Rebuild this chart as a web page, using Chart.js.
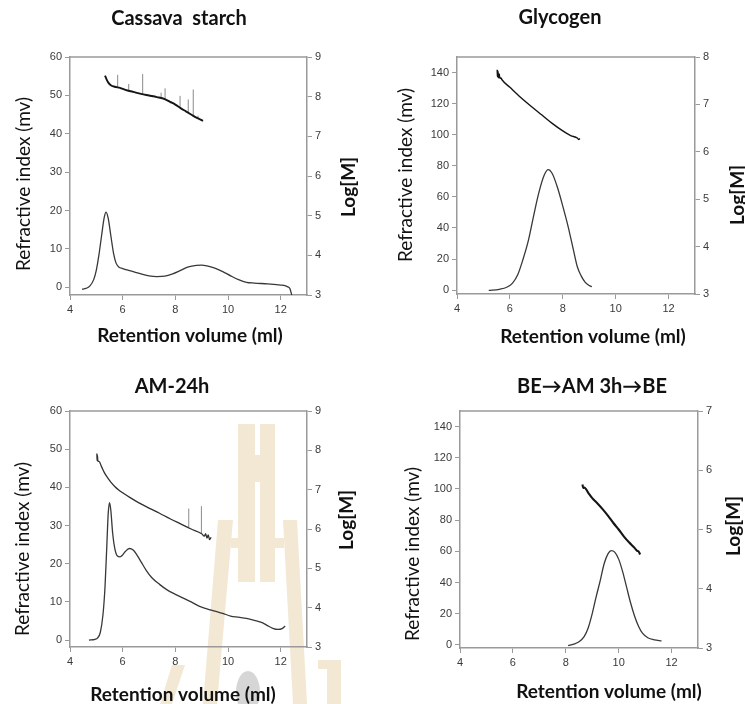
<!DOCTYPE html>
<html>
<head>
<meta charset="utf-8">
<script src="https://cdn.jsdelivr.net/npm/chart.js@4.4.1/dist/chart.umd.min.js"></script>
<style>
  html, body { margin: 0; padding: 0; background: #ffffff; }
  #wrap { position: relative; width: 745px; height: 704px; overflow: hidden; }
  canvas { position: absolute; }
</style>
</head>
<body>
<div id="wrap">
  <canvas id="cassava" width="372" height="352" style="left:0;top:0"></canvas>
  <canvas id="glycogen" width="373" height="352" style="left:372px;top:0"></canvas>
  <canvas id="am24" width="372" height="352" style="left:0;top:352px"></canvas>
  <canvas id="beam" width="373" height="352" style="left:372px;top:352px"></canvas>
</div>
<script>
// ---- axis ticks ----
const retentionTicks = [4, 6, 8, 10, 12];
const riTicksSmall = [0, 10, 20, 30, 40, 50, 60];
const riTicksLarge = [0, 20, 40, 60, 80, 100, 120, 140];
const logTicks9 = [3, 4, 5, 6, 7, 8, 9];
const logTicks8 = [3, 4, 5, 6, 7, 8];
const logTicks7 = [3, 4, 5, 6, 7];

// ---- Cassava starch: refractive index (mv) vs retention volume (ml) ----
const cassavaRI = [
  [4.46, -0.5], [4.6, -0.3], [4.75, 0.3], [4.9, 2.0], [5.0, 4.5], [5.1, 8.5],
  [5.2, 13.5], [5.3, 18.2], [5.37, 19.6], [5.45, 18.0], [5.55, 13.5], [5.65, 9.0],
  [5.75, 6.3], [5.85, 5.3], [6.0, 4.9], [6.3, 4.3], [6.6, 3.7], [7.0, 3.0],
  [7.3, 2.8], [7.6, 2.9], [7.9, 3.5], [8.2, 4.4], [8.5, 5.3], [8.8, 5.7],
  [9.0, 5.8], [9.2, 5.6], [9.5, 5.0], [9.8, 4.1], [10.1, 3.0], [10.4, 2.0],
  [10.7, 1.3], [11.0, 1.1], [11.5, 0.9], [12.0, 0.6], [12.25, 0.2], [12.35, -0.3],
  [12.42, -2.0]
];
// Cassava starch: Log[M]
const cassavaLogM = [
  [5.33, 8.53], [5.38, 8.45], [5.45, 8.36], [5.55, 8.29], [5.7, 8.25], [5.9, 8.22],
  [6.1, 8.17], [6.4, 8.12], [6.7, 8.07], [7.0, 8.03], [7.3, 7.99], [7.6, 7.94],
  [7.8, 7.87], [8.0, 7.80], [8.2, 7.71], [8.4, 7.63], [8.6, 7.55], [8.8, 7.47],
  [9.0, 7.41], [9.05, 7.39]
];
// detector spikes on the Log[M] trace: [volume, base, top]
const cassavaSpikes = [
  [5.81, 8.24, 8.55], [6.23, 8.16, 8.32], [6.76, 8.07, 8.57], [7.46, 7.97, 8.10],
  [7.61, 7.94, 8.21], [8.18, 7.72, 8.02], [8.49, 7.60, 7.93], [8.68, 7.52, 8.18],
  [8.86, 7.45, 7.52]
];

// ---- Glycogen ----
const glycogenRI = [
  [5.2, -0.2], [5.6, 0.5], [5.9, 2.0], [6.1, 4.5], [6.3, 10], [6.5, 20],
  [6.7, 32], [6.9, 48], [7.1, 63], [7.3, 74], [7.45, 77.5], [7.6, 75],
  [7.8, 66], [8.0, 54], [8.2, 41], [8.4, 26], [8.55, 15], [8.7, 9],
  [8.85, 5], [9.0, 3], [9.1, 2.2]
];
const glycogenLogM = [
  [5.52, 7.73], [5.53, 7.58], [5.55, 7.70], [5.57, 7.56], [5.6, 7.64], [5.62, 7.55],
  [5.66, 7.56], [5.7, 7.52], [6.0, 7.36], [6.4, 7.15], [6.8, 6.96], [7.2, 6.78],
  [7.6, 6.60], [8.0, 6.44], [8.3, 6.34], [8.55, 6.29], [8.6, 6.26], [8.65, 6.28]
];

// ---- AM-24h ----
const am24RI = [
  [4.72, 0], [4.95, 0.2], [5.05, 0.6], [5.15, 2.0], [5.25, 6.5], [5.33, 14],
  [5.4, 25], [5.45, 33], [5.5, 36], [5.55, 34], [5.62, 28], [5.7, 24],
  [5.8, 22], [5.9, 21.8], [6.0, 22.3], [6.1, 23.2], [6.25, 24], [6.4, 23.6],
  [6.55, 22.2], [6.7, 20.5], [6.9, 18.2], [7.1, 16.4], [7.4, 14.6], [7.7, 13.1],
  [8.0, 12], [8.3, 11], [8.6, 10], [8.9, 8.9], [9.2, 8.2], [9.5, 7.6],
  [9.8, 7.0], [10.1, 6.3], [10.4, 6.0], [10.7, 5.7], [11.0, 5.2], [11.3, 4.6],
  [11.5, 3.8], [11.7, 3.1], [11.9, 2.8], [12.05, 3.0], [12.17, 3.7]
];
const am24LogM = [
  [5.02, 7.92], [5.03, 7.74], [5.04, 7.88], [5.06, 7.72], [5.1, 7.72], [5.2, 7.58],
  [5.3, 7.44], [5.4, 7.33], [5.55, 7.19], [5.7, 7.08], [5.85, 6.99], [6.0, 6.92],
  [6.3, 6.79], [6.6, 6.67], [7.0, 6.53], [7.4, 6.40], [7.8, 6.26], [8.2, 6.13],
  [8.6, 6.00], [9.0, 5.88], [9.1, 5.82], [9.15, 5.88], [9.2, 5.77], [9.25, 5.85],
  [9.3, 5.73], [9.36, 5.79]
];
const am24Spikes = [
  [8.51, 6.04, 6.52], [8.99, 5.89, 6.58]
];

// ---- BE -> AM 3h -> BE ----
const beamRI = [
  [8.09, -0.4], [8.3, 0.5], [8.5, 2.0], [8.7, 5.5], [8.85, 11], [9.0, 20],
  [9.15, 31], [9.3, 41], [9.45, 52], [9.6, 58.5], [9.72, 60.5], [9.85, 59.5],
  [10.0, 55], [10.15, 47], [10.3, 37], [10.45, 27], [10.6, 18.5], [10.75, 12],
  [10.9, 7.5], [11.1, 4.6], [11.35, 3.2], [11.62, 2.6]
];
const beamLogM = [
  [8.63, 5.76], [8.66, 5.70], [8.7, 5.71], [8.85, 5.62], [9.0, 5.53], [9.2, 5.44],
  [9.4, 5.34], [9.6, 5.23], [9.8, 5.11], [10.0, 5.00], [10.2, 4.88], [10.4, 4.78],
  [10.6, 4.69], [10.7, 4.64], [10.75, 4.63], [10.81, 4.58]
];

// ---- shared styling ----
const AXIS_COLOR = '#9a9a9a';
const TICK_COLOR = '#3a3a3a';
const TEXT_COLOR = '#111111';
const LABEL_FONT = 'Lato, "Open Sans", sans-serif';
const CREST_COLOR = 'rgb(242,232,212)';

const pts = arr => arr.map(([x, y]) => ({ x, y }));
const spikePts = arr => arr.flatMap(([x, b, t]) => [{ x, y: b }, { x, y: t }, { x, y: null }]);
const fixTicks = values => scale => { scale.ticks = values.map(v => ({ value: v })); };

// faint crest printed behind the AM-24h panel
const crestShapes = [
  [[238, 72], [255, 72], [255, 230], [238, 230]],
  [[260, 72], [275, 72], [275, 230], [260, 230]],
  [[255, 103], [260, 103], [260, 130], [255, 130]],
  [[231, 186], [238, 186], [238, 196], [231, 196]],
  [[275, 186], [284, 186], [284, 196], [275, 196]],
  [[218, 168], [233, 168], [217, 352], [203, 352]],
  [[283, 168], [297, 168], [307, 352], [293, 352]],
  [[172, 313], [185, 313], [172, 352], [160, 352]],
  [[318, 308], [341, 308], [341, 352], [327, 352], [327, 317], [318, 317]]
];

const panelText = {
  id: 'panelText',
  beforeDraw(chart, args, opts) {
    if (!opts.crest) return;
    const ctx = chart.ctx;
    ctx.save();
    ctx.fillStyle = CREST_COLOR;
    crestShapes.forEach(poly => {
      ctx.beginPath();
      poly.forEach(([x, y], i) => (i ? ctx.lineTo(x, y) : ctx.moveTo(x, y)));
      ctx.closePath();
      ctx.fill();
    });
    ctx.fillStyle = '#d6d6d6';
    ctx.beginPath();
    ctx.ellipse(248, 340, 12, 21, 0, 0, Math.PI * 2);
    ctx.fill();
    ctx.restore();
  },
  afterDraw(chart, args, opts) {
    const { ctx, chartArea: a } = chart;
    ctx.save();
    // closing frame line along the top of the plot
    ctx.strokeStyle = AXIS_COLOR;
    ctx.lineWidth = 1.5;
    ctx.beginPath();
    ctx.moveTo(a.left, a.top);
    ctx.lineTo(a.right, a.top);
    ctx.stroke();

    ctx.fillStyle = TEXT_COLOR;
    ctx.textAlign = 'center';
    ctx.textBaseline = 'middle';
    const put = (t, font, rot) => {
      ctx.save();
      ctx.translate(t.x, t.y);
      if (rot) ctx.rotate(-Math.PI / 2);
      ctx.font = font;
      ctx.fillText(t.text, 0, 0);
      ctx.restore();
    };
    put(opts.title, `bold 20px ${LABEL_FONT}`, false);
    put(opts.left, `19px ${LABEL_FONT}`, true);
    put(opts.right, `bold 19px ${LABEL_FONT}`, true);
    put(opts.bottom, `bold 19px ${LABEL_FONT}`, false);
    ctx.restore();
  }
};

function axisStyle(extra) {
  return Object.assign({
    grid: { display: true, drawOnChartArea: false, drawTicks: true, tickLength: 5, color: AXIS_COLOR, lineWidth: 1 },
    border: { display: true, color: AXIS_COLOR, width: 1.5 },
    ticks: { color: TICK_COLOR, font: { family: '"Liberation Sans", Arial, sans-serif', size: 11 }, padding: 3 }
  }, extra);
}

function makePanel(id, p) {
  const canvas = document.getElementById(id);
  const W = canvas.width, H = canvas.height;
  const [L, T, R, B] = p.area;
  const datasets = [
    {
      data: pts(p.ri), yAxisID: 'y', showLine: true, pointRadius: 0,
      borderColor: '#383838', borderWidth: 1.3, cubicInterpolationMode: 'monotone'
    },
    {
      data: pts(p.logm), yAxisID: 'y2', showLine: true, pointRadius: 0,
      borderColor: p.logColor || '#151515', borderWidth: p.logWidth || 1.6,
      cubicInterpolationMode: 'monotone'
    }
  ];
  if (p.spikes) {
    datasets.push({
      data: spikePts(p.spikes), yAxisID: 'y2', showLine: true, pointRadius: 0,
      spanGaps: false, borderColor: '#8a8a8a', borderWidth: 1
    });
  }
  return new Chart(canvas, {
    type: 'scatter',
    data: { datasets },
    options: {
      responsive: false,
      animation: false,
      events: [],
      layout: { padding: { top: T, left: 0, right: 0, bottom: 0 } },
      plugins: {
        legend: { display: false },
        tooltip: { enabled: false },
        panelText: p.text
      },
      scales: {
        x: axisStyle({
          type: 'linear', position: 'bottom', min: 4, max: 13,
          afterBuildTicks: fixTicks(retentionTicks),
          afterFit: s => { s.height = H - B; }
        }),
        y: axisStyle({
          type: 'linear', position: 'left', min: p.riMin, max: p.riMax,
          afterBuildTicks: fixTicks(p.riTicks),
          afterFit: s => { s.width = L; }
        }),
        y2: axisStyle({
          type: 'linear', position: 'right', min: 3, max: p.logMax,
          afterBuildTicks: fixTicks(p.logTicks),
          afterFit: s => { s.width = W - R; }
        })
      }
    },
    plugins: [panelText]
  });
}

makePanel('cassava', {
  area: [70, 57, 307, 295],
  ri: cassavaRI, logm: cassavaLogM, spikes: cassavaSpikes, logWidth: 1.9,
  riMin: -2, riMax: 60, riTicks: riTicksSmall,
  logMax: 9, logTicks: logTicks9,
  text: {
    title: { text: 'Cassava  starch', x: 179, y: 19 },
    left: { text: 'Refractive index (mv)', x: 24, y: 184 },
    right: { text: 'Log[M]', x: 349, y: 187 },
    bottom: { text: 'Retention volume (ml)', x: 190, y: 336 }
  }
});

makePanel('glycogen', {
  area: [85, 57, 323, 294],
  ri: glycogenRI, logm: glycogenLogM, logWidth: 1.4,
  riMin: -2.5, riMax: 150, riTicks: riTicksLarge,
  logMax: 8, logTicks: logTicks8,
  text: {
    title: { text: 'Glycogen', x: 188, y: 18 },
    left: { text: 'Refractive index (mv)', x: 34, y: 175 },
    right: { text: 'Log[M]', x: 366, y: 195 },
    bottom: { text: 'Retention volume (ml)', x: 221, y: 337 }
  }
});

makePanel('am24', {
  area: [70, 59, 307, 295],
  ri: am24RI, logm: am24LogM, spikes: am24Spikes, logWidth: 1.3, logColor: '#303030',
  riMin: -1.8, riMax: 60, riTicks: riTicksSmall,
  logMax: 9, logTicks: logTicks9,
  text: {
    crest: true,
    title: { text: 'AM-24h', x: 172, y: 35 },
    left: { text: 'Refractive index (mv)', x: 23, y: 197 },
    right: { text: 'Log[M]', x: 347, y: 168 },
    bottom: { text: 'Retention volume (ml)', x: 183, y: 343 }
  }
});

makePanel('beam', {
  area: [88, 59, 326, 296],
  ri: beamRI, logm: beamLogM, logWidth: 2.1,
  riMin: -2, riMax: 150, riTicks: riTicksLarge,
  logMax: 7, logTicks: logTicks7,
  text: {
    title: { text: 'BE\u2192AM 3h\u2192BE', x: 220, y: 35 },
    left: { text: 'Refractive index (mv)', x: 41, y: 202 },
    right: { text: 'Log[M]', x: 362, y: 174 },
    bottom: { text: 'Retention volume (ml)', x: 237, y: 340 }
  }
});
</script>
</body>
</html>
